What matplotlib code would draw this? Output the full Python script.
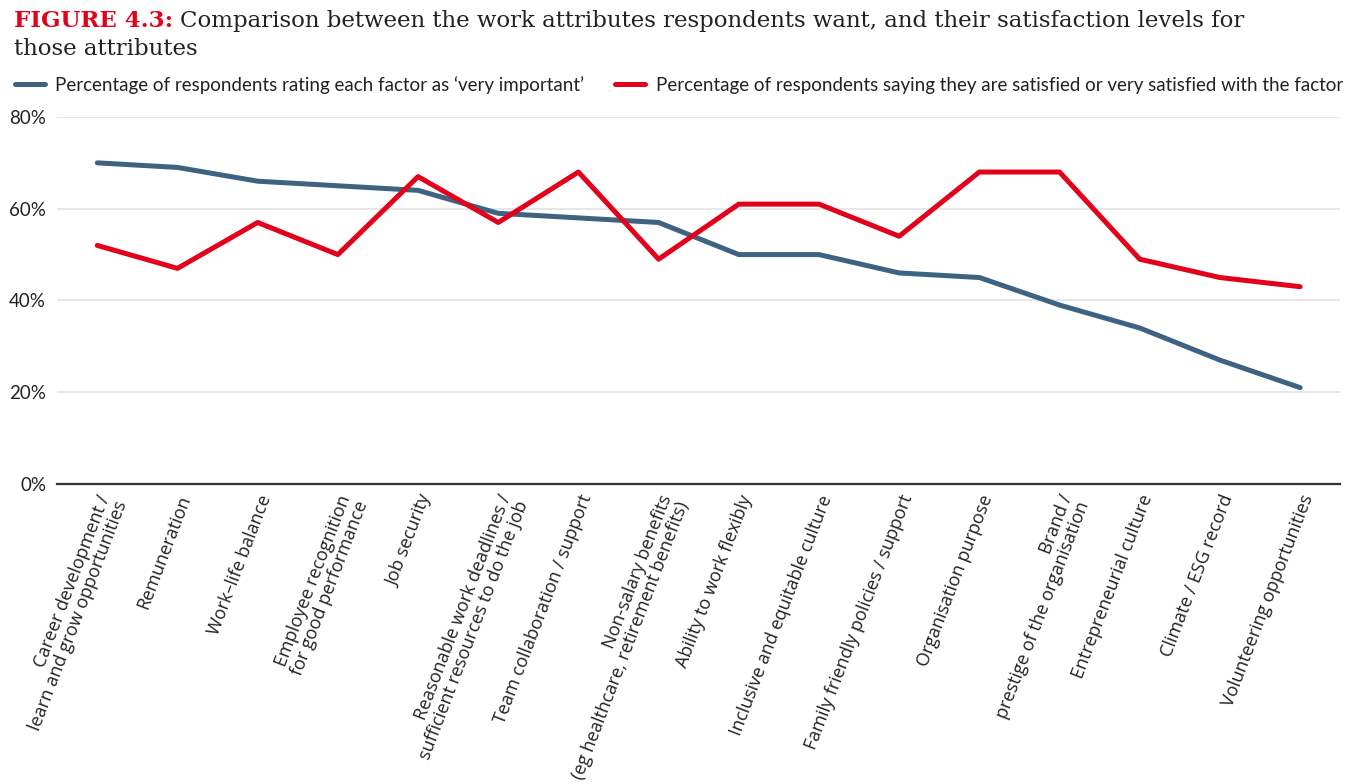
import matplotlib
matplotlib.use("Agg")
import matplotlib.pyplot as plt

# -------------------------------------------------------------------
# Data
# -------------------------------------------------------------------
factors = [
    "Career development /\nlearn and grow opportunities",
    "Remuneration",
    "Work–life balance",
    "Employee recognition\nfor good performance",
    "Job security",
    "Reasonable work deadlines /\nsufficient resources to do the job",
    "Team collaboration / support",
    "Non-salary benefits\n(eg healthcare, retirement benefits)",
    "Ability to work flexibly",
    "Inclusive and equitable culture",
    "Family friendly policies / support",
    "Organisation purpose",
    "Brand /\nprestige of the organisation",
    "Entrepreneurial culture",
    "Climate / ESG record",
    "Volunteering opportunities",
]
very_important = [70, 69, 66, 65, 64, 59, 58, 57, 50, 50, 46, 45, 39, 34, 27, 21]
satisfied = [52, 47, 57, 50, 67, 57, 68, 49, 61, 61, 54, 68, 68, 49, 45, 43]
yticks = [0, 20, 40, 60, 80]

BLUE = "#3e6282"
RED = "#e2001a"
TEXT = "#222222"

plt.rcParams["font.family"] = ["Lato", "DejaVu Sans"]

fig = plt.figure(figsize=(13.62, 7.84), dpi=100)
ax = fig.add_axes([0.042, 0.3827, 0.942, 0.4681])

x = range(len(factors))
ax.plot(x, very_important, color=BLUE, lw=3.6, solid_capstyle="round",
        solid_joinstyle="round",
        label="Percentage of respondents rating each factor as \u2018very important\u2019")
ax.plot(x, satisfied, color=RED, lw=3.6, solid_capstyle="round",
        solid_joinstyle="round",
        label="Percentage of respondents saying they are satisfied or very satisfied with the factor")

ax.set_xlim(-0.5, 15.5)
ax.set_ylim(0, 80)
ax.set_yticks(yticks)
ax.set_yticklabels([f"{v}%" for v in yticks], fontsize=13.5, color=TEXT)
ax.grid(axis="y", color="#e3e3e3", lw=1.2)
ax.set_axisbelow(True)
for side in ["top", "right", "left"]:
    ax.spines[side].set_visible(False)
ax.spines["bottom"].set_color("#333333")
ax.spines["bottom"].set_linewidth(1.6)
ax.tick_params(axis="y", length=0, pad=8)
ax.tick_params(axis="x", length=0, pad=6)

ax.set_xticks(list(x))
ax.set_xticklabels(factors, rotation=69, ha="right", va="top",
                   rotation_mode="anchor", fontsize=13, color=TEXT,
                   family=["Open Sans", "DejaVu Sans"],
                   multialignment="right", linespacing=1.0)

# Title: red figure number followed by black caption
t1 = fig.text(0.010, 0.965, "FIGURE 4.3:", color=RED, fontsize=16.5,
              family="DejaVu Serif", weight="semibold", va="baseline")
fig.canvas.draw()
ax.annotate("Comparison between the work attributes respondents want, and their satisfaction levels for",
            xy=(1, 0), xycoords=t1, xytext=(5, 0), textcoords="offset points",
            color=TEXT, fontsize=16.5, family="DejaVu Serif", va="bottom",
            annotation_clip=False)
fig.text(0.010, 0.930, "those attributes", color=TEXT, fontsize=16.5,
         family="DejaVu Serif", va="baseline")

fig.legend(loc="upper left", bbox_to_anchor=(0.011, 0.903), ncol=2,
           frameon=False, fontsize=13.5, handlelength=1.6, handletextpad=0.55,
           columnspacing=1.65, borderpad=0, borderaxespad=0, labelcolor=TEXT)

fig.savefig("out.png", dpi=100)
